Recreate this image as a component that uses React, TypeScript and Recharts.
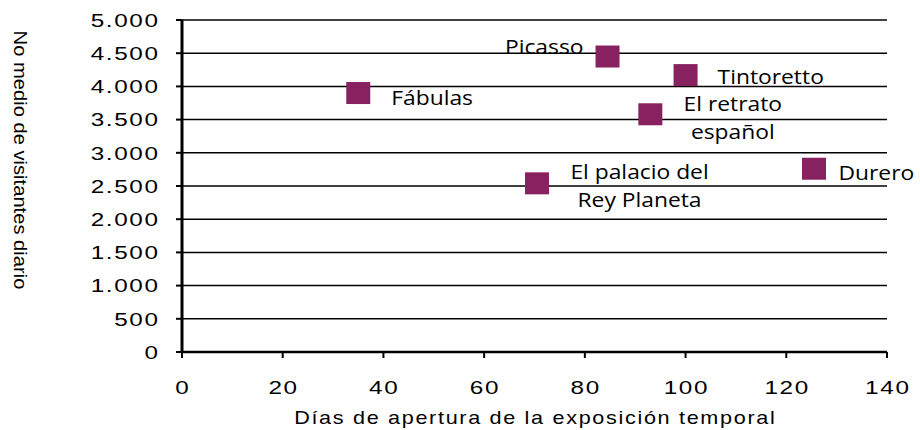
import React from 'react';
import { ScatterChart, Scatter, XAxis, YAxis, CartesianGrid } from 'recharts';

const exhibitions = ['Fábulas', 'Picasso', 'Tintoretto', 'El retrato español', 'El palacio del Rey Planeta', 'Durero'];
const labelLines = [['Fábulas'], ['Picasso'], ['Tintoretto'], ['El retrato', 'español'], ['El palacio del', 'Rey Planeta'], ['Durero']];
const daysOpen = [35, 84.5, 100, 93, 70.5, 125.5];
const dailyVisitors = [3900, 4450, 4170, 3580, 2540, 2760];
const xTicks = [0, 20, 40, 60, 80, 100, 120, 140];
const yTicks = [0, 500, 1000, 1500, 2000, 2500, 3000, 3500, 4000, 4500, 5000];

const data = exhibitions.map((name, i) => ({ name, lines: labelLines[i], x: daysOpen[i], y: dailyVisitors[i] }));

// label placement relative to marker centre (layout, not data)
const LABEL_LAYOUT: { dx: number; dy: number; anchor: 'start' | 'middle' | 'end' }[] = [
  { dx: 33, dy: 4, anchor: 'start' },
  { dx: -24, dy: -10, anchor: 'end' },
  { dx: 32, dy: 1, anchor: 'start' },
  { dx: 82.5, dy: -11, anchor: 'middle' },
  { dx: 102.5, dy: -12, anchor: 'middle' },
  { dx: 24.5, dy: 3, anchor: 'start' },
];

const MARK = '#87215F';
const AXIS_FONT = '"Liberation Sans", Arial, sans-serif';
const LABEL_FONT = '"Open Sans", sans-serif';
const TICK_SIZE = 18;
const TICK_SX = 1.35;
const TICK_SP = 1.2;

const fmt = (v: number) => v.toString().replace(/\B(?=(\d{3})+(?!\d))/g, '.');

const SText = (props: any) => {
  const { x, y, sx = 1, rot = 0, children, ...rest } = props;
  return (
    <text transform={`translate(${x},${y}) rotate(${rot}) scale(${sx},1)`} x={0} y={0} dominantBaseline="central" fill="#000" {...rest}>
      {children}
    </text>
  );
};

const SquareShape = (props: any) => {
  const { cx, cy, index } = props;
  const lay = LABEL_LAYOUT[index] || { dx: 20, dy: 0, anchor: 'start' };
  const lines: string[] = props.payload?.lines || [];
  return (
    <g>
      <rect x={cx - 12} y={cy - 11} width={24} height={22} fill={MARK} />
      {lines.map((ln, k) => (
        <SText
          key={k}
          x={cx + lay.dx}
          y={cy + lay.dy + k * 28}
          sx={1.17}
          textAnchor={lay.anchor}
          fontFamily={LABEL_FONT}
          fontSize={19.5}
        >
          {ln}
        </SText>
      ))}
    </g>
  );
};

const YTick = (props: any) => {
  const { x, y, payload } = props;
  return (
    <SText x={x + TICK_SP * TICK_SX} y={y + 1} sx={TICK_SX} textAnchor="end" fontFamily={AXIS_FONT} fontSize={TICK_SIZE} letterSpacing={TICK_SP}>
      {fmt(payload.value)}
    </SText>
  );
};

const XTick = (props: any) => {
  const { x, y, payload } = props;
  return (
    <SText x={x + (TICK_SP * TICK_SX) / 2} y={y + 28} sx={TICK_SX} textAnchor="middle" fontFamily={AXIS_FONT} fontSize={TICK_SIZE} letterSpacing={TICK_SP}>
      {payload.value}
    </SText>
  );
};

const XTitle = (props: any) => {
  const vb = props.viewBox || {};
  return (
    <SText x={vb.x + vb.width / 2 + 0.8} y={418} sx={1.2} textAnchor="middle" fontFamily={AXIS_FONT} fontSize={18} letterSpacing={1.4}>
      Días de apertura de la exposición temporal
    </SText>
  );
};

const YTitle = () => (
  <SText x={20} y={160} rot={90} sx={1.12} textAnchor="middle" fontFamily={AXIS_FONT} fontSize={18}>
    No medio de visitantes diario
  </SText>
);

export default function App() {
  return (
    <div style={{ position: 'absolute', left: 0, top: 0, width: 920, height: 430, background: '#fff' }}>
      <ScatterChart width={920} height={430} margin={{ top: 20, right: 33, bottom: 0, left: 0 }}>
        <CartesianGrid horizontal vertical={false} stroke="#000" strokeWidth={1.5} />
        <XAxis
          type="number"
          dataKey="x"
          domain={[0, 140]}
          ticks={xTicks}
          height={78}
          axisLine={{ stroke: '#000', strokeWidth: 2.5 }}
          tickLine={{ stroke: '#000', strokeWidth: 2 }}
          tickSize={6}
          tick={<XTick />}
          interval={0}
          label={<XTitle />}
        />
        <YAxis
          type="number"
          dataKey="y"
          domain={[0, 5000]}
          ticks={yTicks}
          width={182}
          axisLine={{ stroke: '#000', strokeWidth: 3 }}
          tickLine={{ stroke: '#000', strokeWidth: 2 }}
          tickSize={6}
          tickMargin={18}
          tick={<YTick />}
          interval={0}
          label={<YTitle />}
        />
        <Scatter data={data} fill={MARK} isAnimationActive={false} shape={SquareShape} />
      </ScatterChart>
    </div>
  );
}
